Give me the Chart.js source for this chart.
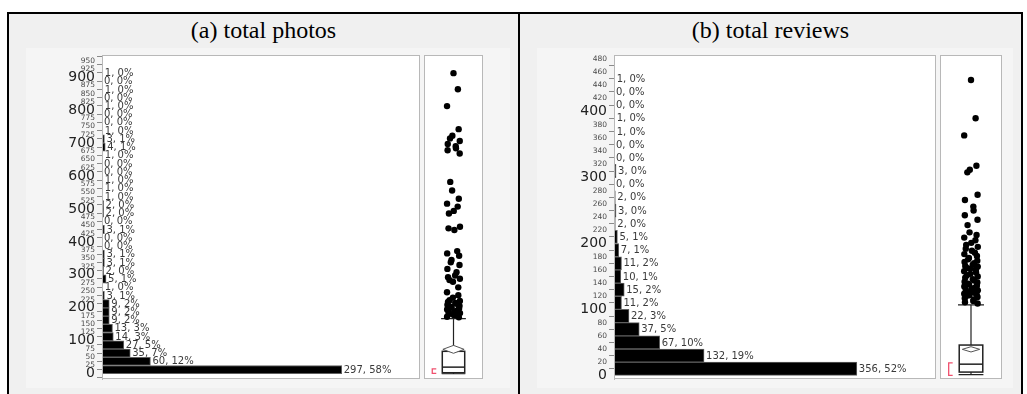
<!DOCTYPE html>
<html>
<head>
<meta charset="utf-8">
<script src="https://cdn.jsdelivr.net/npm/chart.js@4.4.0/dist/chart.umd.min.js"></script>
<style>
  body { margin: 0; width: 1027px; height: 394px; overflow: hidden; background: #fff; }
  #frame { position: absolute; left: 7px; top: 12px; width: 1016px; height: 400px; box-sizing: border-box;
           border: 2px solid #000; border-bottom: none; background: #f0f0f0; }
  #divider { position: absolute; left: 518px; top: 12px; width: 2px; height: 390px; background: #000; }
  .title { position: absolute; top: 14px; height: 32px; line-height: 32px; text-align: center;
           font-family: "Liberation Serif", serif; font-size: 24px; color: #000; }
  .panel { position: absolute; top: 48px; height: 340px; background: #f5f5f5; }
  canvas { position: absolute; }
</style>
</head>
<body>
<div id="frame"></div>
<div id="divider"></div>
<div class="title" style="left:9px;width:509px">(a) total photos</div>
<div class="title" style="left:520px;width:501px">(b) total reviews</div>
<div class="panel" style="left:26px;width:484px"></div>
<div class="panel" style="left:537px;width:476px"></div>
<canvas id="photoHist" width="395" height="336" style="left:26px;top:48px"></canvas>
<canvas id="photoBox" width="90" height="336" style="left:420px;top:48px"></canvas>
<canvas id="reviewHist" width="400" height="336" style="left:537px;top:48px"></canvas>
<canvas id="reviewBox" width="77" height="336" style="left:936px;top:48px"></canvas>
<script>
// total photos: histogram bins (lower edge) and counts
const photoBinStart = [0, 25, 50, 75, 100, 125, 150, 175, 200, 225, 250, 275, 300, 325, 350, 375, 400, 425, 450,
  475, 500, 525, 550, 575, 600, 625, 650, 675, 700, 725, 750, 775, 800, 825, 850, 875, 900];
const photoCounts = [297, 60, 35, 27, 14, 13, 9, 9, 9, 3, 1, 5, 2, 3, 3, 0, 0, 3, 0,
  2, 2, 1, 1, 1, 0, 0, 1, 4, 3, 1, 0, 0, 1, 0, 1, 0, 1];
const photoTicks = [0, 25, 50, 75, 100, 125, 150, 175, 200, 225, 250, 275, 300, 325, 350, 375, 400, 425, 450, 475,
  500, 525, 550, 575, 600, 625, 650, 675, 700, 725, 750, 775, 800, 825, 850, 875, 900, 925, 950];
// box plot: [min, q1, median, q3, upper whisker]
const photoBox = [0, 3, 20, 68, 167];
const photoMean = [62, 74, 86];        // lower CI, mean, upper CI
const photoShortest = [1, 15];
const photoOutliers = [912, 863, 812, 742, 722, 714, 706, 697, 690, 684, 678, 668, 582, 556, 531, 516, 507,
  494, 486, 446, 441, 436, 372, 365, 358, 345, 338, 330, 318, 308, 298, 293, 288, 284, 279, 262,
  247, 238, 231, 223, 221, 218, 215, 212, 209, 206, 203, 201, 198, 195, 192, 189, 187, 184, 181,
  178, 176, 173, 171];

// total reviews
const reviewBinStart = [0, 20, 40, 60, 80, 100, 120, 140, 160, 180, 200, 220, 240, 260, 280, 300, 320, 340,
  360, 380, 400, 420, 440];
const reviewCounts = [356, 132, 67, 37, 22, 11, 15, 10, 11, 7, 5, 2, 3, 2, 0, 3, 0, 0, 1, 1, 0, 0, 1];
const reviewTicks = [0, 20, 40, 60, 80, 100, 120, 140, 160, 180, 200, 220, 240, 260, 280, 300, 320, 340, 360,
  380, 400, 420, 440, 460, 480];
const reviewBox = [1, 5, 17, 46, 107];
const reviewMean = [35.5, 39.5, 43.5];
const reviewShortest = [0, 19];
const reviewOutliers = [448, 390, 364, 318, 312, 308, 274, 266, 256, 250, 243, 236, 228,
  217, 213, 209, 205, 201, 198, 195, 192, 189, 186, 184, 181,
  178, 176, 174, 172, 170, 168, 166, 165, 163, 162, 161,
  158, 156, 154, 152, 150, 148, 146, 144, 142, 141,
  139, 138, 136, 135, 133, 132, 130, 129, 127, 126, 125, 124, 123, 122, 121,
  119, 117, 115, 113, 111, 109];

Chart.defaults.font.family = '"DejaVu Sans", sans-serif';

// white plot area with a grey frame
const plotFrame = {
  id: 'plotFrame',
  beforeDraw(chart) {
    const { ctx, chartArea: a } = chart;
    ctx.save();
    ctx.fillStyle = '#fff';
    ctx.fillRect(a.left, a.top, a.width, a.height);
    ctx.restore();
  },
  afterDraw(chart) {
    const { ctx, chartArea: a } = chart;
    ctx.save();
    ctx.strokeStyle = '#b8b8b8';
    ctx.lineWidth = 1;
    ctx.strokeRect(a.left + 0.5, a.top + 0.5, a.width - 1, a.height - 1);
    ctx.restore();
  }
};

// "count, pct%" next to each bar
const barLabels = {
  id: 'barLabels',
  afterDatasetsDraw(chart) {
    const { ctx } = chart;
    const pts = chart.data.datasets[0].data;
    const total = pts.reduce((s, p) => s + p.x, 0);
    ctx.save();
    ctx.font = '10px "DejaVu Sans"';
    ctx.fillStyle = '#3a3a3a';
    ctx.textBaseline = 'middle';
    chart.getDatasetMeta(0).data.forEach((bar, i) => {
      const c = pts[i].x;
      ctx.fillText(c + ', ' + Math.round(c / total * 100) + '%', bar.x + 2, bar.y + 0.5);
    });
    ctx.restore();
  }
};

// box, whiskers, mean diamond and shortest-half bracket
const boxPlot = {
  id: 'boxPlot',
  beforeDatasetsDraw(chart, args, o) {
    const { ctx, scales: { x, y } } = chart;
    const [lo, q1, med, q3, hi] = o.stats;
    const px = v => x.getPixelForValue(v);
    const bl = px(0.5 - 0.19), br = px(0.5 + 0.19), cx = px(0.5);
    ctx.save();
    ctx.strokeStyle = '#222';
    ctx.lineWidth = 1.2;
    // whiskers
    ctx.beginPath();
    ctx.moveTo(cx, y.getPixelForValue(q3)); ctx.lineTo(cx, y.getPixelForValue(hi));
    ctx.moveTo(cx, y.getPixelForValue(q1)); ctx.lineTo(cx, y.getPixelForValue(lo));
    ctx.moveTo(px(0.29), y.getPixelForValue(hi)); ctx.lineTo(px(0.71), y.getPixelForValue(hi));
    ctx.moveTo(px(0.3), y.getPixelForValue(lo)); ctx.lineTo(px(0.7), y.getPixelForValue(lo));
    ctx.stroke();
    // box
    ctx.fillStyle = '#fff';
    const yt = y.getPixelForValue(q3), yb = y.getPixelForValue(q1);
    ctx.fillRect(bl, yt, br - bl, yb - yt);
    ctx.lineWidth = 1.5;
    ctx.strokeRect(bl, yt, br - bl, yb - yt);
    ctx.beginPath();
    ctx.moveTo(bl, y.getPixelForValue(med)); ctx.lineTo(br, y.getPixelForValue(med));
    ctx.stroke();
    // mean diamond
    const [cl, m, cu] = o.mean;
    ctx.lineWidth = 1;
    ctx.strokeStyle = '#555';
    ctx.beginPath();
    ctx.moveTo(cx, y.getPixelForValue(cu));
    ctx.lineTo(px(0.5 + o.diamond), y.getPixelForValue(m));
    ctx.lineTo(cx, y.getPixelForValue(cl));
    ctx.lineTo(px(0.5 - o.diamond), y.getPixelForValue(m));
    ctx.closePath();
    ctx.fillStyle = '#fff';
    ctx.fill();
    ctx.stroke();
    // shortest half
    const [s0, s1] = o.shortest;
    const bx = px(0.14), y0 = y.getPixelForValue(s0), y1 = y.getPixelForValue(s1);
    ctx.strokeStyle = '#f0506e';
    ctx.lineWidth = 1.3;
    ctx.beginPath();
    ctx.moveTo(bx + 4, y1); ctx.lineTo(bx, y1); ctx.lineTo(bx, y0); ctx.lineTo(bx + 4, y0);
    ctx.stroke();
    ctx.restore();
  }
};

function histChart(id, starts, counts, ticks, yMin, yMax, xMax, axisWidth, major) {
  const step = starts[1] - starts[0];
  return new Chart(document.getElementById(id), {
    type: 'bar',
    data: {
      datasets: [{
        data: counts.map((c, i) => ({ x: c, y: starts[i] + step / 2 })),
        backgroundColor: '#000',
        borderColor: '#606060',
        borderWidth: 1,
        borderSkipped: false,
        barPercentage: 1,
        categoryPercentage: 1
      }]
    },
    options: {
      indexAxis: 'y',
      responsive: false,
      animation: false,
      devicePixelRatio: 1,
      layout: { padding: { top: 7, bottom: 5, left: 0, right: 1 } },
      plugins: { legend: { display: false }, tooltip: { enabled: false } },
      scales: {
        x: { type: 'linear', min: 0, max: xMax, display: false },
        y: {
          type: 'linear', min: yMin, max: yMax, offset: false,
          afterBuildTicks: axis => { axis.ticks = ticks.map(v => ({ value: v })); },
          afterFit: axis => { axis.width = axisWidth; axis.paddingTop = 0; axis.paddingBottom = 0; },
          ticks: {
            autoSkip: false,
            padding: 2,
            callback: v => String(v),
            font: c => ({ size: c.tick && c.tick.value % major === 0 ? 14 : 7.5 }),
            color: c => (c.tick && c.tick.value % major === 0 ? '#222' : '#4a4a4a')
          },
          grid: { drawOnChartArea: false, tickLength: 5, color: '#8a8a8a' },
          border: { display: true, color: '#b8b8b8' }
        }
      }
    },
    plugins: [plotFrame, barLabels]
  });
}

function boxChart(id, stats, mean, shortest, outliers, yMin, yMax, padRight, diamond) {
  return new Chart(document.getElementById(id), {
    type: 'scatter',
    data: {
      datasets: [{
        data: outliers.map((v, i) => ({ x: 0.5 + 0.11 * Math.sin(i * 2.4), y: v })),
        backgroundColor: '#000',
        borderWidth: 0,
        pointRadius: 3.2
      }]
    },
    options: {
      responsive: false,
      animation: false,
      devicePixelRatio: 1,
      layout: { padding: { top: 7, bottom: 5, left: 0, right: padRight } },
      plugins: {
        legend: { display: false }, tooltip: { enabled: false },
        boxPlot: { stats, mean, shortest, diamond }
      },
      scales: {
        x: { type: 'linear', min: 0, max: 1, display: false },
        y: { type: 'linear', min: yMin, max: yMax, display: false }
      }
    },
    plugins: [plotFrame, boxPlot]
  });
}

histChart('photoHist', photoBinStart, photoCounts, photoTicks, -16, 967, 394, 76, 100);
boxChart('photoBox', photoBox, photoMean, photoShortest, photoOutliers, -16, 967, 27, 0.18);
histChart('reviewHist', reviewBinStart, reviewCounts, reviewTicks, -5.5, 486, 472, 77, 100);
boxChart('reviewBox', reviewBox, reviewMean, reviewShortest, reviewOutliers, -5.5, 486, 11, 0.14);
</script>
</body>
</html>
